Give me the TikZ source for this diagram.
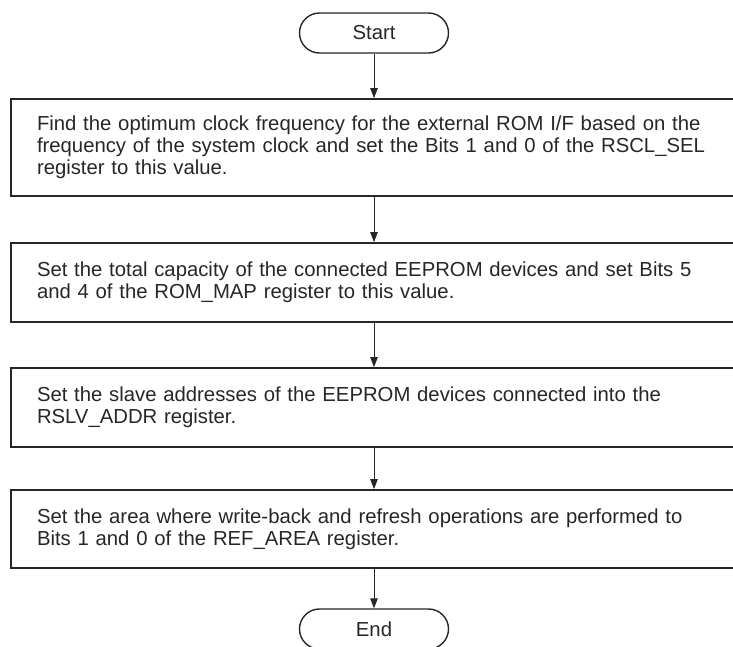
\documentclass[tikz,border=0pt]{standalone}
\usepackage{fontspec}
\setmainfont{Liberation Sans}
\usetikzlibrary{arrows.meta}
\begin{document}
\begin{tikzpicture}[x=1pt,y=-1pt,
  terminal/.style={draw=black!85, line width=1.4pt, rounded corners=20pt,
    minimum width=149pt, minimum height=40pt, inner sep=0pt,
    font=\fontsize{20.3}{22}\selectfont, text=black!85},
  procbox/.style={draw=black!85, line width=1.8pt, text width=674pt,
    inner xsep=26pt, inner ysep=0pt, align=left,
    font=\fontsize{20.3}{22}\selectfont, text=black!85},
  flow/.style={draw=black!85, line width=0.9pt,
    -{Triangle[length=10pt,width=7.5pt]}}]
\useasboundingbox (0,0) rectangle (733,646);
\clip (0,0) rectangle (733,646);
\node[terminal] (start) at (374,33) {Start};
\node[procbox, minimum height=97pt] (b1) at (374,147.5)
  {Find the optimum clock frequency for the external ROM I/F based on the\\
   frequency of the system clock and set the Bits 1 and 0 of the RSCL\_SEL\\
   register to this value.};
\node[procbox, minimum height=79pt] (b2) at (374,282.5)
  {Set the total capacity of the connected EEPROM devices and set Bits 5\\
   and 4 of the ROM\_MAP register to this value.};
\node[procbox, minimum height=79pt] (b3) at (374,407.5)
  {Set the slave addresses of the EEPROM devices connected into the\\
   RSLV\_ADDR register.};
\node[procbox, minimum height=78pt] (b4) at (374,529)
  {Set the area where write-back and refresh operations are performed to\\
   Bits 1 and 0 of the REF\_AREA register.};
\node[terminal] (end) at (374,629) {End};
\draw[flow] (start) -- (b1);
\draw[flow] (b1) -- (b2);
\draw[flow] (b2) -- (b3);
\draw[flow] (b3) -- (b4);
\draw[flow] (b4) -- (end);
\end{tikzpicture}
\end{document}
